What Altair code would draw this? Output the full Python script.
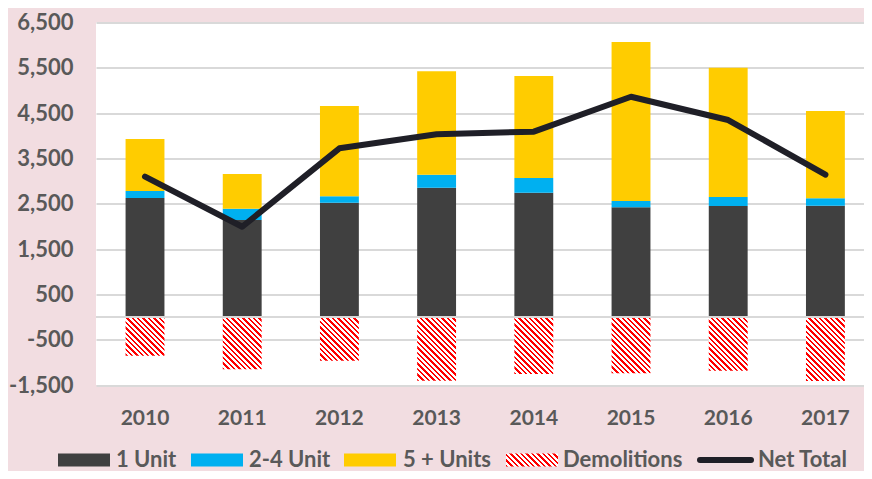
import math
import altair as alt
import pandas as pd

# ---------------- data ----------------
years = ["2010", "2011", "2012", "2013", "2014", "2015", "2016", "2017"]
one_unit = [2626, 2141, 2523, 2854, 2744, 2421, 2450, 2457]
two_four_unit = [155, 249, 141, 287, 324, 139, 198, 163]
five_plus_units = [1147, 766, 1993, 2282, 2251, 3509, 2854, 1927]
demolitions = [-854, -1155, -965, -1405, -1258, -1243, -1185, -1413]
net_total = [3097, 1993, 3723, 4032, 4091, 4862, 4348, 3141]

series_names = ["1 Unit", "2-4 Unit", "5 + Units"]
series_colors = ["#404040", "#00b0f0", "#ffcc00"]
y_ticks = [-1500, -500, 500, 1500, 2500, 3500, 4500, 5500, 6500]

# ---------------- styling ----------------
PLOT_W, PLOT_H = 768, 362.5
Y_MIN, Y_MAX = -1500, 6500
BG = "#f2dde1"
TXT = "#595959"
FONT = "Lato"
RED = "#ff0000"
LINE_COLOR = "#1f1f27"
P_IN, P_OUT, ALIGN = 0.6, 0.2506, 0.607
STEP = PLOT_W / (len(years) - P_IN + 2 * P_OUT)
BAR_PX = STEP * (1 - P_IN)
FS = 21

rows = []
for i, y in enumerate(years):
    for j, (name, vals) in enumerate(zip(series_names, [one_unit, two_four_unit, five_plus_units])):
        rows.append({"year": y, "series": name, "value": vals[i], "order": j})
stack_df = pd.DataFrame(rows)
demo_df = pd.DataFrame({"year": years, "value": demolitions})
net_df = pd.DataFrame({"year": years, "value": net_total})

x_enc = alt.X("year:N", sort=years,
              scale=alt.Scale(paddingInner=P_IN, paddingOuter=P_OUT, align=ALIGN),
              axis=alt.Axis(title=None, labelAngle=0, domain=False, ticks=False,
                            labelPadding=22, labelFontSize=FS, labelFontWeight="bold",
                            labelColor=TXT, labelFont=FONT))
y_scale = alt.Scale(domain=[Y_MIN, Y_MAX], nice=False, zero=False)
y_axis = alt.Axis(title=None, values=y_ticks, domain=False, ticks=False, tickSize=0,
                  labelPadding=23, labelFontSize=FS + 1, labelFontWeight="bold",
                  labelColor=TXT, labelFont=FONT, gridColor="#d9d9d9", gridWidth=2,
                  labelExpr="(datum.value < 0 ? '-' : '') + format(abs(datum.value), ',')")


def hatch(w, h, period=5.4, red_frac=0.45):
    k = (w + h) / (w * w + h * h)
    n = (w + h) / period
    stops = []
    i = 0
    while i / n < 1:
        a = i / n
        b = min((i + red_frac) / n, 1)
        c = min((i + 1) / n, 1)
        stops += [alt.GradientStop(offset=a, color=RED), alt.GradientStop(offset=b, color=RED),
                  alt.GradientStop(offset=b, color="#ffffff"), alt.GradientStop(offset=c, color="#ffffff")]
        i += 1
    return alt.LinearGradient(gradient="linear", stops=stops,
                              x1=0, y1=1, x2=k * w, y2=1 - k * h)


bars = alt.Chart(stack_df).mark_bar().encode(
    x=x_enc,
    y=alt.Y("sum(value):Q", scale=y_scale, axis=y_axis, stack="zero"),
    color=alt.Color("series:N", scale=alt.Scale(domain=series_names, range=series_colors), legend=None),
    order=alt.Order("order:Q", sort="ascending"),
)

demo_layers = []
for y, d in zip(years, demolitions):
    h = abs(d) * PLOT_H / (Y_MAX - Y_MIN)
    demo_layers.append(
        alt.Chart(demo_df).transform_filter(alt.datum.year == y).mark_bar(fill=hatch(BAR_PX, h)).encode(
            x=alt.X("year:N", sort=years),
            y=alt.Y("value:Q"),
        )
    )

zero_rule = alt.Chart(pd.DataFrame({"z": [0]})).mark_rule(color="#d9d9d9", strokeWidth=2).encode(
    y=alt.Y("z:Q")
)

net_line = alt.Chart(net_df).mark_line(color=LINE_COLOR, strokeWidth=6, strokeCap="round",
                                       strokeJoin="round").encode(
    x=alt.X("year:N", sort=years),
    y=alt.Y("value:Q"),
)

# ---------------- manual legend ----------------
one = pd.DataFrame({"k": [0]})
LEG_Y0, LEG_Y1 = 431, 444
LEG_TXT_Y = 444
legend_layers = []
swatches = [(-38, 14, series_colors[0]), (95, 147, series_colors[1]), (248, 300, series_colors[2])]
for x0, x1, col in swatches:
    legend_layers.append(alt.Chart(one).mark_rect(color=col).encode(
        x=alt.value(x0), x2=alt.value(x1), y=alt.value(LEG_Y0), y2=alt.value(LEG_Y1)))
legend_layers.append(alt.Chart(one).mark_rect(fill=hatch(52, 13)).encode(
    x=alt.value(410), x2=alt.value(462), y=alt.value(LEG_Y0), y2=alt.value(LEG_Y1)))
legend_layers.append(alt.Chart(one).mark_rule(color=LINE_COLOR, strokeWidth=6, strokeCap="round").encode(
    x=alt.value(604), x2=alt.value(655), y=alt.value(437.5), y2=alt.value(437.5)))
legend_texts = [(20, "1 Unit"), (153, "2-4 Unit"), (307, "5 + Units"), (467, "Demolitions"), (662, "Net Total")]
for tx, label in legend_texts:
    legend_layers.append(alt.Chart(one).mark_text(
        text=label, align="left", baseline="alphabetic", font=FONT, fontSize=FS + 1,
        fontWeight="bold", color=TXT).encode(x=alt.value(tx), y=alt.value(LEG_TXT_Y)))

chart = alt.layer(bars, *demo_layers, zero_rule, net_line, *legend_layers).properties(
    width=PLOT_W, height=PLOT_H,
    padding={"left": 88, "top": 14.5, "right": 0, "bottom": 86},
    autosize=alt.AutoSizeParams(type="none"),
    background=BG,
).configure_view(fill="#ffffff", stroke=None)

chart.save("out.html", embed_options={"renderer": "svg", "actions": False})
